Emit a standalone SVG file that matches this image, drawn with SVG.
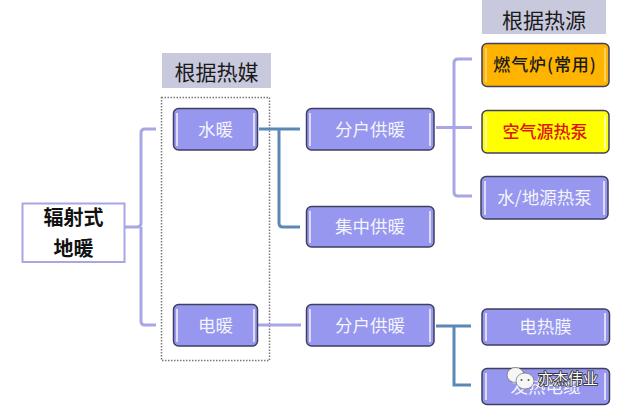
<svg xmlns="http://www.w3.org/2000/svg" width="618" height="407" viewBox="0 0 618 407">
<defs>
<style>
text{font-family:"Noto Sans CJK SC","Noto Sans",sans-serif;text-anchor:middle}
.box{stroke:#3f3f5f;stroke-width:1.5}
.p{fill:#9797ef}
.o{fill:#ffb400}
.y{fill:#ffff00}
.hl{stroke:#dcdcfa;stroke-width:2;fill:none}
.t{font-size:17.500px;fill:#f4f4fc}
.hd{font-size:21px;fill:#1a1a1a}
.lp{fill:none;stroke:#a9a6e6;stroke-width:3}
.lb{fill:none;stroke:#5b88b4;stroke-width:3}
</style>
</defs>
<rect width="618" height="407" fill="#fff"/>
<g id="header-heat-medium"><rect x="162" y="53" width="109" height="35" fill="#c9c9de"/><text class="hd" x="216.500" y="80">根据热媒</text></g>
<g id="header-heat-source"><rect x="482" y="0" width="124" height="34" fill="#c9c9de"/><text class="hd" x="544" y="28">根据热源</text></g>
<rect id="dotted-frame" x="161.500" y="97.500" width="108" height="263" fill="none" stroke="#77777a" stroke-width="1.500" stroke-dasharray="1.500 1.500"/>
<g id="connectors">
<path class="lp" d="M124 227H137Q141 227 141 223V133Q141 129 145 129H156M141 227V321Q141 325 145 325H156"/>
<path class="lb" d="M259 129H300M279 129V223Q279 227 283 227H300"/>
<path class="lp" d="M258 325H301"/>
<path class="lp" d="M436 127.500H472M454 127.500V63Q454 59 458 59H472M454 127.500V192Q454 196 458 196H472"/>
<path class="lb" d="M436 326H471M454 326V385H471"/>
</g>
<g id="root"><rect x="22.500" y="203.500" width="102" height="58.500" fill="#fff" stroke="#a9a6e6" stroke-width="2"/><text x="73.500" y="225" font-size="20" font-weight="700" fill="#111">辐射式</text><text x="73.500" y="256" font-size="20" font-weight="700" fill="#111">地暖</text></g>
<g id="n-water"><rect class="box p" x="173.500" y="108.500" width="84" height="41.500" rx="5"/><path class="hl" d="M177 113V146M254 113V146"/><text class="t" x="215.500" y="135.500">水暖</text></g>
<g id="n-electric"><rect class="box p" x="173.500" y="304.500" width="84" height="41.500" rx="5"/><path class="hl" d="M177 309V342M254 309V342"/><text class="t" x="215.500" y="331.500">电暖</text></g>
<g id="n-household-1"><rect class="box p" x="306.500" y="108.500" width="127.500" height="41.500" rx="5"/><path class="hl" d="M310 113V146M430 113V146"/><text class="t" x="370" y="135.500">分户供暖</text></g>
<g id="n-central"><rect class="box p" x="306.500" y="206.500" width="127.500" height="40.500" rx="5"/><path class="hl" d="M310 211V243M430 211V243"/><text class="t" x="370" y="233">集中供暖</text></g>
<g id="n-household-2"><rect class="box p" x="306.500" y="304.500" width="127.500" height="41.500" rx="5"/><path class="hl" d="M310 309V342M430 309V342"/><text class="t" x="370" y="331.500">分户供暖</text></g>
<g id="n-gas"><rect class="box o" x="482" y="43.500" width="127" height="43" rx="5"/><path d="M486 48V82M605 48V82" fill="none" stroke="#ffd060" stroke-width="2"/><text x="545" y="70.500" font-size="17" font-weight="500" letter-spacing=".9" fill="#1a1a1a">燃气炉(常用)</text></g>
<g id="n-air"><rect class="box y" x="482" y="110.500" width="127" height="42.500" rx="5"/><path d="M486 115V149M605 115V149" fill="none" stroke="#ffffa0" stroke-width="2"/><text x="545" y="138" font-size="17" font-weight="500" fill="#e0140c">空气源热泵</text></g>
<g id="n-ground"><rect class="box p" x="481" y="176.500" width="127" height="42.500" rx="5"/><path class="hl" d="M485 181V215M604 181V215"/><text class="t" x="544.500" y="204">水/地源热泵</text></g>
<g id="n-film"><rect class="box p" x="482" y="309" width="127.500" height="36" rx="5"/><path class="hl" d="M486 313V341M605 313V341"/><text class="t" x="545.500" y="333">电热膜</text></g>
<g id="n-cable"><rect class="box p" x="482" y="368.500" width="127.500" height="36" rx="5"/><path class="hl" d="M486 373V400M605 373V400"/><text class="t" x="545.500" y="393">发热电缆</text></g>
<g id="watermark">
<ellipse cx="515.500" cy="375" rx="8.500" ry="7.500" fill="#f6f6f6" stroke="#555" stroke-width=".6"/>
<ellipse cx="525" cy="381" rx="9" ry="8" fill="#f6f6f6" stroke="#555" stroke-width=".6"/>
<circle cx="521.500" cy="380" r="1" fill="#555"/><circle cx="528.500" cy="380" r="1" fill="#555"/>
<text x="568" y="384" font-size="15" fill="#fff" stroke="#333" stroke-width="1.600" paint-order="stroke">亦杰伟业</text>
</g>
</svg>
